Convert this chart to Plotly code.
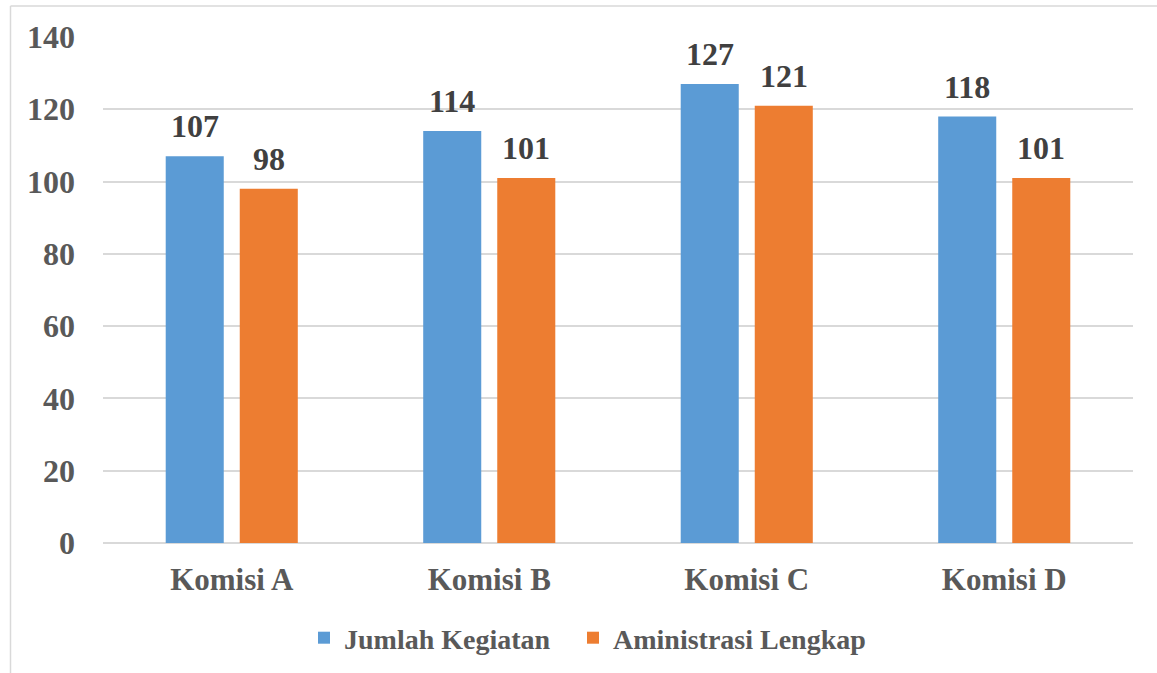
import plotly.graph_objects as go

categories = ["Komisi A", "Komisi B", "Komisi C", "Komisi D"]
jumlah_kegiatan = [107, 114, 127, 118]
administrasi_lengkap = [98, 101, 121, 101]
series_names = ["Jumlah Kegiatan", "Aministrasi Lengkap"]
series_colors = ["#5B9BD5", "#ED7D31"]
y_ticks = [0, 20, 40, 60, 80, 100, 120, 140]

FONT = "Liberation Serif"
AXIS_COLOR = "#595959"
LABEL_COLOR = "#404040"
FS = 32

W, H = 1157, 673
L, R, T, B = 103, 24, 37, 130
pw, ph = W - L - R, H - T - B

def px(x):
    return (x - L) / pw

def py(y):
    return (H - B - y) / ph

BARGAP, GROUPGAP = 0.425, 0.216
slot_px = pw / len(categories) * (1 - BARGAP) / 2

fig = go.Figure()
series = [jumlah_kegiatan, administrasi_lengkap]
for i, (name, vals, color) in enumerate(zip(series_names, series, series_colors)):
    fig.add_trace(go.Bar(
        x=categories, y=vals, name=name,
        marker=dict(color=color, line=dict(width=0)),
        legend="legend" if i == 0 else "legend2",
    ))
    shift = (i - 0.5) * slot_px
    for c, v in zip(categories, vals):
        fig.add_annotation(x=c, y=v, xref="x", yref="y", text=str(v), showarrow=False,
                           yanchor="bottom", yshift=10, xshift=shift,
                           font=dict(family=FONT, size=FS, color=LABEL_COLOR, weight="bold"))

legend_common = dict(orientation="h", xanchor="left", y=py(638), yanchor="middle",
                     font=dict(family=FONT, size=28, color=AXIS_COLOR, weight="bold"),
                     itemwidth=30, bgcolor="rgba(0,0,0,0)")

fig.update_layout(
    width=W, height=H,
    margin=dict(l=L, r=R, t=T, b=B, autoexpand=False),
    paper_bgcolor="white", plot_bgcolor="white",
    barmode="group", bargap=BARGAP, bargroupgap=GROUPGAP,
    font=dict(family=FONT, size=FS, color=AXIS_COLOR, weight="bold"),
    xaxis=dict(showgrid=False, showline=False, ticks="", ticklabelstandoff=15, automargin=False,
               tickfont=dict(family=FONT, size=31, color=AXIS_COLOR, weight="bold")),
    yaxis=dict(range=[0, 140], tickvals=y_ticks, showgrid=True, gridcolor="#D9D9D9",
               gridwidth=1.5, zeroline=True, zerolinecolor="#D9D9D9", zerolinewidth=1.5,
               showline=False, ticks="", ticklabelstandoff=27, automargin=False,
               tickfont=dict(family=FONT, size=FS, color=AXIS_COLOR, weight="bold")),
    legend=dict(x=px(304), **legend_common),
    legend2=dict(x=px(573), **legend_common),
    showlegend=True,
    shapes=[
        dict(type="line", xref="paper", yref="paper", x0=px(10.5), x1=px(W + 5),
             y0=py(6), y1=py(6), line=dict(color="#D9D9D9", width=1.5)),
        dict(type="line", xref="paper", yref="paper", x0=px(10.5), x1=px(10.5),
             y0=py(6), y1=py(H + 5), line=dict(color="#D9D9D9", width=1.5)),
    ],
)

fig.write_html("out.html")
